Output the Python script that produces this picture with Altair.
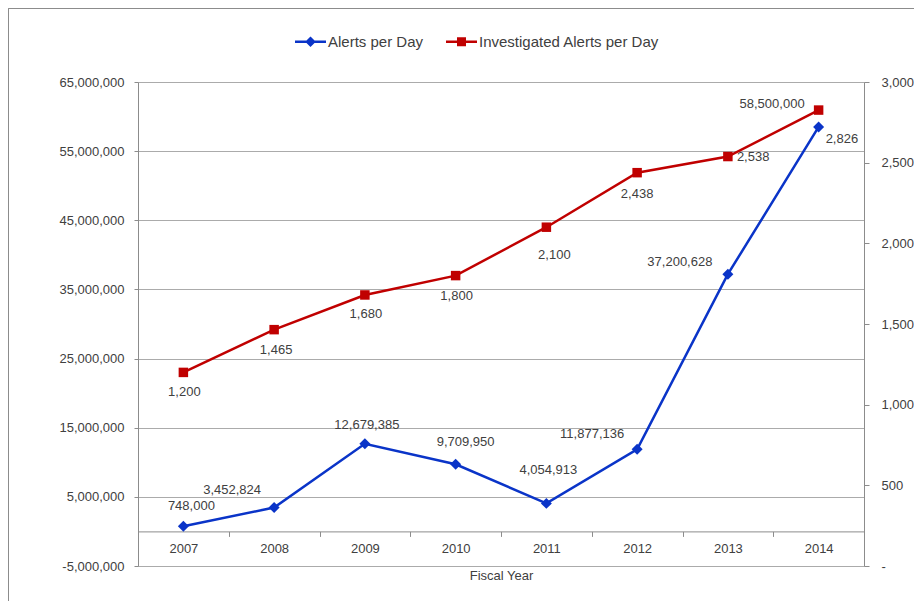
import altair as alt
import pandas as pd

# ---------------- data ----------------
years = ["2007", "2008", "2009", "2010", "2011", "2012", "2013", "2014"]
alerts = [748000, 3452824, 12679385, 9709950, 4054913, 11877136, 37200628, 58500000]
investigated = [1200, 1465, 1680, 1800, 2100, 2438, 2538, 2826]
alerts_labels = ["748,000", "3,452,824", "12,679,385", "9,709,950", "4,054,913",
                 "11,877,136", "37,200,628", "2,826"]
investigated_labels = ["1,200", "1,465", "1,680", "1,800", "2,100", "2,438", "2,538",
                       "58,500,000"]
series_names = ["Alerts per Day", "Investigated Alerts per Day"]
left_ticks = [-5000000, 5000000, 15000000, 25000000, 35000000, 45000000, 55000000, 65000000]
right_ticks = [0, 500, 1000, 1500, 2000, 2500, 3000]

df = pd.DataFrame({
    "year": years,
    "alerts": alerts,
    "investigated": investigated,
    "alerts_label": alerts_labels,
    "inv_label": investigated_labels,
})
legend_df = pd.DataFrame({"series": series_names})

# ---------------- style ----------------
FONT = "Liberation Sans"
TEXT = "#404040"
BLUE = "#0a34c8"
RED = "#c00000"
GRID = "#ababab"
AXIS = "#8c8c8c"

# label placement (dx, dy, align) per year
blue_place = {"2007": (8, -20, "center"), "2008": (-42, -18, "center"),
              "2009": (2, -19, "center"), "2010": (10, -22, "center"),
              "2011": (2, -33, "center"), "2012": (-45, -15, "center"),
              "2013": (-48, -12, "center"), "2014": (7, 12, "left")}
red_place = {"2007": (1, 20, "center"), "2008": (2, 20, "center"),
             "2009": (1, 19, "center"), "2010": (1, 20, "center"),
             "2011": (8, 28, "center"), "2012": (0, 21, "center"),
             "2013": (9, 0, "left"), "2014": (-14, -6, "right")}

x_enc = alt.X(
    "year:N",
    scale=alt.Scale(type="band", domain=years, paddingInner=0, paddingOuter=0),
    bandPosition=0.5,
    axis=alt.Axis(title="Fiscal Year", offset=-34.6, tickBand="extent", labelAngle=0,
                  grid=False, domainColor=AXIS, tickColor=AXIS, tickSize=5,
                  labelPadding=6, titlePadding=14, labelFont=FONT, labelFontSize=13,
                  labelColor=TEXT, titleFont=FONT, titleFontSize=13,
                  titleColor=TEXT, titleFontWeight="normal"),
)

y_left = alt.Y(
    "alerts:Q",
    scale=alt.Scale(domain=[-5000000, 65000000], nice=False, zero=False),
    axis=alt.Axis(orient="left", values=left_ticks,
                  labelExpr="replace(format(datum.value, ','), '\u2212', '-')",
                  title=None,
                  grid=True, gridColor=GRID, gridWidth=1, domainColor=AXIS,
                  tickColor=AXIS, tickSize=4, labelPadding=10, labelFont=FONT,
                  labelFontSize=13, labelColor=TEXT),
)

y_right = alt.Y(
    "investigated:Q",
    scale=alt.Scale(domain=[0, 3000], nice=False, zero=False),
    axis=alt.Axis(orient="right", values=right_ticks, title=None, grid=False,
                  labelExpr="datum.value == 0 ? '-' : format(datum.value, ',')",
                  domainColor=AXIS, tickColor=AXIS, tickSize=5, labelPadding=12,
                  labelFont=FONT, labelFontSize=13, labelColor=TEXT),
)

base = alt.Chart(df)

blue_line = base.mark_line(color=BLUE, strokeWidth=2.5).encode(x=x_enc, y=y_left)
blue_pts = base.mark_point(shape="diamond", filled=True, size=120, color=BLUE,
                           opacity=1).encode(x=x_enc, y=y_left)
blue_txt = [
    base.transform_filter(alt.datum.year == yr).mark_text(
        dx=p[0], dy=p[1], align=p[2], baseline="middle", font=FONT, fontSize=13,
        color=TEXT).encode(x=x_enc, y=y_left, text="alerts_label:N")
    for yr, p in blue_place.items()
]

red_line = base.mark_line(color=RED, strokeWidth=2.5).encode(x=x_enc, y=y_right)
red_pts = base.mark_point(shape="square", filled=True, size=90, color=RED,
                          opacity=1).encode(x=x_enc, y=y_right)
red_txt = [
    base.transform_filter(alt.datum.year == yr).mark_text(
        dx=p[0], dy=p[1], align=p[2], baseline="middle", font=FONT, fontSize=13,
        color=TEXT).encode(x=x_enc, y=y_right, text="inv_label:N")
    for yr, p in red_place.items()
]

# legend (line + marker symbols)
diamond_sym = "M-1,-0.08L1,-0.08L1,0.08L-1,0.08Z M0,-0.34L0.34,0L0,0.34L-0.34,0Z"
square_sym = "M-1,-0.08L1,-0.08L1,0.08L-1,0.08Z M-0.29,-0.29L0.29,-0.29L0.29,0.29L-0.29,0.29Z"
leg = alt.Legend(orient="none", legendX=157, legendY=-56, direction="horizontal",
                 title=None, symbolSize=961, symbolStrokeWidth=0, labelFont=FONT,
                 labelFontSize=15, labelColor=TEXT, labelOffset=2, columnPadding=22,
                 labelLimit=0, padding=0)
legend_layer = alt.Chart(legend_df).transform_filter("false").mark_point(
    filled=True, opacity=1).encode(
    color=alt.Color("series:N", scale=alt.Scale(domain=series_names, range=[BLUE, RED]),
                    legend=leg),
    shape=alt.Shape("series:N", scale=alt.Scale(domain=series_names,
                                                range=[diamond_sym, square_sym]),
                    legend=leg),
)

# outer chart-area border (top and left edges)
border_top = alt.Chart(legend_df).mark_rule(color="#8c8c8c", strokeWidth=1).encode(
    x=alt.value(-129.5), x2=alt.value(800), y=alt.value(-73.5))
border_left = alt.Chart(legend_df).mark_rule(color="#8c8c8c", strokeWidth=1).encode(
    x=alt.value(-129.5), y=alt.value(-73.5), y2=alt.value(530))

left = alt.layer(blue_line, blue_pts, *blue_txt, legend_layer, border_top, border_left)
right = alt.layer(red_line, red_pts, *red_txt)

chart = alt.layer(left, right).resolve_scale(y="independent").properties(
    width=726, height=484,
    padding={"left": 130, "top": 74, "right": 50, "bottom": 35},
    autosize=alt.AutoSizeParams(type="none"),
).configure_view(fill="#d9d9d9", strokeWidth=0).configure(background="white")

chart.save("out.html", embed_options={"renderer": "svg", "actions": False})
